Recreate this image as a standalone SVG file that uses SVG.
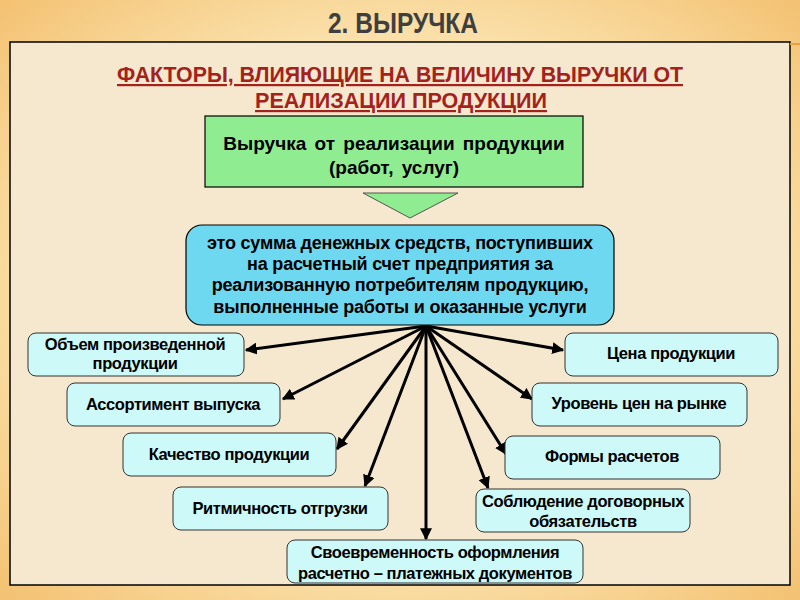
<svg xmlns="http://www.w3.org/2000/svg" width="800" height="600" viewBox="0 0 800 600">
<defs>
<radialGradient id="bg" cx="50%" cy="50%" r="75%">
<stop offset="0" stop-color="#FDF1D0"/>
<stop offset="0.6" stop-color="#FADFA8"/>
<stop offset="1" stop-color="#F2BC68"/>
</radialGradient>
<marker id="ah" viewBox="0 0 10 10" refX="9" refY="5" markerWidth="4" markerHeight="4" orient="auto" markerUnits="strokeWidth">
<path d="M0,0 L10,5 L0,10 z" fill="#000"/>
</marker>
<style>
.title{font-family:"Liberation Sans Narrow","Liberation Sans",sans-serif;font-weight:bold;font-size:30px;fill:#3F3F3F;text-anchor:middle}
.sub{font-family:"Liberation Sans Narrow","Liberation Sans",sans-serif;font-weight:bold;font-size:22px;fill:#A3221C;text-anchor:middle;text-decoration:underline}
.big{font-family:"Liberation Sans",Arial,sans-serif;font-weight:bold;font-size:19px;fill:#000;text-anchor:middle;word-spacing:3px}
.def{font-family:"Liberation Sans",Arial,sans-serif;font-weight:bold;font-size:18px;fill:#000;text-anchor:middle;letter-spacing:-0.2px}
.f{font-family:"Liberation Sans",Arial,sans-serif;font-weight:bold;font-size:16.5px;fill:#000;text-anchor:middle;letter-spacing:-0.4px}
.fb{fill:#CDF9F9;stroke:#333;stroke-width:1}
.c{stroke:#000;stroke-width:3;fill:none;marker-end:url(#ah)}
</style>
</defs>
<rect width="800" height="600" fill="url(#bg)"/>
<rect x="10" y="42" width="780" height="543" fill="#F6E8CE" stroke="#000" stroke-width="1.5"/>
<line x1="790" y1="44" x2="800" y2="44" stroke="#E8A040" stroke-width="2"/>
<text class="title" x="403" y="33" textLength="150" lengthAdjust="spacingAndGlyphs">2. ВЫРУЧКА</text>
<text class="sub" x="400" y="82" textLength="566" lengthAdjust="spacingAndGlyphs">ФАКТОРЫ, ВЛИЯЮЩИЕ НА ВЕЛИЧИНУ ВЫРУЧКИ ОТ</text>
<text class="sub" x="401" y="108" textLength="292" lengthAdjust="spacingAndGlyphs">РЕАЛИЗАЦИИ ПРОДУКЦИИ</text>

<g id="connectors">
<line class="c" x1="426" y1="326" x2="246" y2="350"/>
<line class="c" x1="426" y1="326" x2="283" y2="399"/>
<line class="c" x1="426" y1="326" x2="337" y2="449"/>
<line class="c" x1="426" y1="326" x2="365" y2="486"/>
<line class="c" x1="426" y1="326" x2="426" y2="539"/>
<line class="c" x1="426" y1="326" x2="563" y2="350"/>
<line class="c" x1="426" y1="326" x2="532" y2="399"/>
<line class="c" x1="426" y1="326" x2="506" y2="454"/>
<line class="c" x1="426" y1="326" x2="488" y2="488"/>
</g>

<g id="main">
<rect x="205" y="116" width="378" height="71" fill="#90EC90" stroke="#000" stroke-width="1.2"/>
<text class="big" x="394" y="150">Выручка от реализации продукции</text>
<text class="big" x="394" y="174">(работ, услуг)</text>
</g>
<g id="pointer">
<polygon points="363,193 458,193 410,218" fill="#90EC90" stroke="#555" stroke-width="1"/>
</g>
<g id="definition">
<rect x="186" y="225" width="428" height="100" rx="16" fill="#6DD8F0" stroke="#000" stroke-width="1.2"/>
<text class="def" x="400" y="249">это сумма денежных средств, поступивших</text>
<text class="def" x="400" y="270">на расчетный счет предприятия за</text>
<text class="def" x="400" y="291">реализованную потребителям продукцию,</text>
<text class="def" x="400" y="313">выполненные работы и оказанные услуги</text>
</g>

<g id="f1"><rect class="fb" x="28" y="333" width="216" height="43" rx="8"/>
<text class="f" x="135" y="350">Объем произведенной</text><text class="f" x="135" y="369">продукции</text></g>
<g id="f2"><rect class="fb" x="67" y="383" width="213" height="43" rx="8"/>
<text class="f" x="173" y="410">Ассортимент выпуска</text></g>
<g id="f3"><rect class="fb" x="123" y="433" width="213" height="43" rx="8"/>
<text class="f" x="229" y="460">Качество продукции</text></g>
<g id="f4"><rect class="fb" x="173" y="487" width="215" height="43" rx="8"/>
<text class="f" x="280" y="514">Ритмичность отгрузки</text></g>
<g id="f5"><rect class="fb" x="287" y="540" width="296" height="43" rx="8"/>
<text class="f" x="435" y="558">Своевременность оформления</text><text class="f" x="435" y="579">расчетно – платежных документов</text></g>
<g id="f6"><rect class="fb" x="565" y="333" width="213" height="43" rx="8"/>
<text class="f" x="671" y="359">Цена продукции</text></g>
<g id="f7"><rect class="fb" x="532" y="383" width="215" height="43" rx="8"/>
<text class="f" x="639" y="409">Уровень цен на рынке</text></g>
<g id="f8"><rect class="fb" x="505" y="436" width="215" height="43" rx="8"/>
<text class="f" x="612" y="462">Формы расчетов</text></g>
<g id="f9"><rect class="fb" x="476" y="489" width="214" height="43" rx="8"/>
<text class="f" x="583" y="507">Соблюдение договорных</text><text class="f" x="583" y="527">обязательств</text></g>
</svg>
